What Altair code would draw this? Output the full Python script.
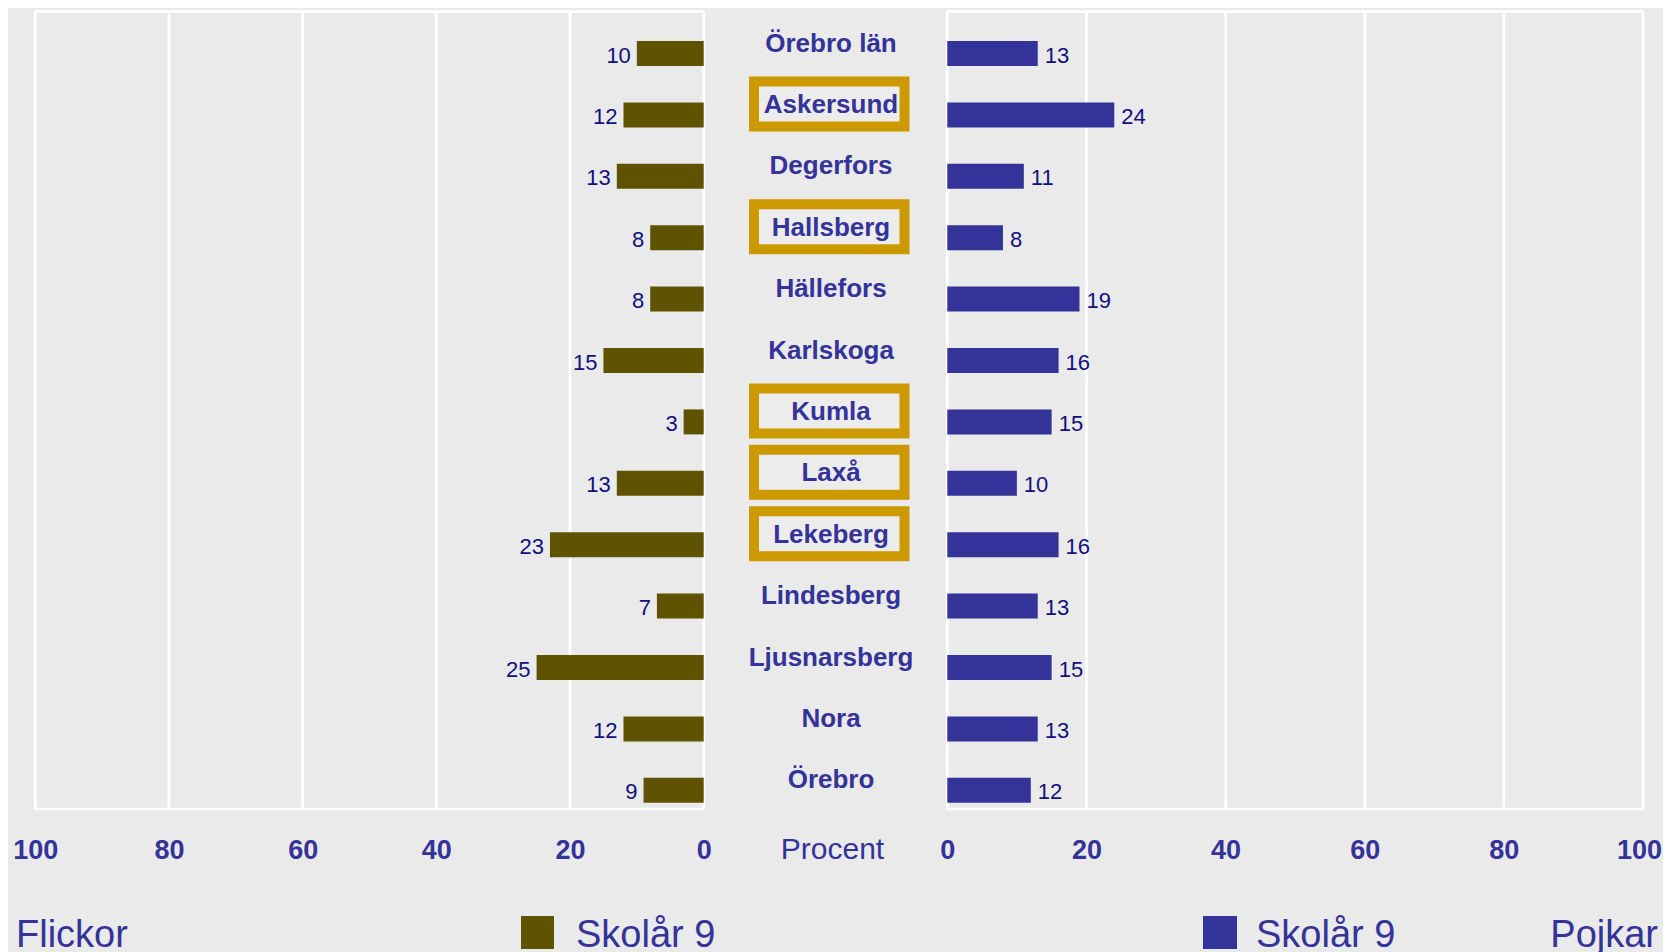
import altair as alt
import pandas as pd

# ---------------- data ----------------
cities = ["Örebro län", "Askersund", "Degerfors", "Hallsberg", "Hällefors",
          "Karlskoga", "Kumla", "Laxå", "Lekeberg", "Lindesberg",
          "Ljusnarsberg", "Nora", "Örebro"]
girls = [10, 12, 13, 8, 8, 15, 3, 13, 23, 7, 25, 12, 9]
boys = [13, 24, 11, 8, 19, 16, 15, 10, 16, 13, 15, 13, 12]
highlighted = ["Askersund", "Hallsberg", "Kumla", "Laxå", "Lekeberg"]
tick_values = [0, 20, 40, 60, 80, 100]
axis_title = "Procent"
series_titles = ["Flickor", "Pojkar"]
legend_label = "Skolår 9"
bar_colors = ["#5f5200", "#333399"]

df = pd.DataFrame({"kommun": cities, "flickor": girls, "pojkar": boys})
df["markerad"] = df["kommun"].isin(highlighted)
grid_df = pd.DataFrame({"t": tick_values})
one = pd.DataFrame({"v": [0]})

# ---------------- style ----------------
FONT = "Liberation Sans"
BLUE = "#333399"
NAVY = "#10107f"
GOLD = "#cc9900"
BG = "#eaeaea"
W, H = 1607.7, 797.7
LINE_W = 2.7

Y = alt.Y("kommun:N", sort=cities, axis=None,
          scale=alt.Scale(domain=cities, range=[11.5, 809.7],
                          paddingInner=0, paddingOuter=0))


def make_axis(last_shift=0):
    return alt.Axis(values=tick_values, orient="bottom", domain=False, ticks=False,
                    grid=False, labelFont=FONT, labelFontWeight="bold",
                    labelFontSize=27, labelColor=BLUE, labelPadding=28,
                    labelFlush=False, labelOverlap=False, title=None, format="d",
                    labelOffset={"expr": f"datum.value == 100 ? {last_shift} : 0"})


def panel(field, rng, color, align, dx, last_shift):
    sc = alt.Scale(domain=[0, 100], range=rng, nice=False)
    ax = make_axis(last_shift)
    grid = alt.Chart(grid_df).mark_rule(color="white", strokeWidth=LINE_W).encode(
        x=alt.X("t:Q", scale=sc, axis=ax), y=alt.value(0), y2=alt.value(H))
    top = alt.Chart(one).mark_rule(color="white", strokeWidth=LINE_W).encode(
        x=alt.X(datum=0, scale=sc, axis=ax), x2=alt.datum(100), y=alt.value(0))
    bottom = alt.Chart(one).mark_rule(color="white", strokeWidth=LINE_W).encode(
        x=alt.X(datum=0, scale=sc, axis=ax), x2=alt.datum(100), y=alt.value(H))
    bars = alt.Chart(df).mark_bar(size=25, color=color).encode(
        x=alt.X(f"{field}:Q", scale=sc, axis=ax), y=Y)
    labels = alt.Chart(df).mark_text(
        align=align, baseline="alphabetic", dx=dx, dy=9, font=FONT,
        fontSize=22, color=NAVY).encode(
        x=alt.X(f"{field}:Q", scale=sc, axis=ax), y=Y, text=f"{field}:Q")
    return alt.layer(grid, top, bottom, bars, labels)


left = panel("flickor", [668.4, 0], bar_colors[0], "right", -6, 0)
right = panel("pojkar", [912.0, W], bar_colors[1], "left", 7, -4)

boxes = alt.Chart(df).transform_filter("datum.markerad").mark_bar(
    orient="horizontal", size=45, yOffset=-11, fill="#ececec",
    stroke=GOLD, strokeWidth=10).encode(
    x=alt.value(718.7), x2=alt.value(869.2), y=Y)

names = alt.Chart(df).mark_text(
    font=FONT, fontWeight="bold", fontSize=26, color=BLUE, align="center",
    baseline="alphabetic", dy=-2).encode(
    x=alt.value(795.7), y=Y, text="kommun:N")

procent = alt.Chart(one).mark_text(
    text=axis_title, font=FONT, fontSize=30, color=BLUE, align="center",
    baseline="alphabetic").encode(x=alt.value(797.2), y=alt.value(848))

LEG_Y = 936
leg_font = dict(font=FONT, fontSize=38, color=BLUE, baseline="alphabetic")
flickor_t = alt.Chart(one).mark_text(text=series_titles[0], align="left", **leg_font).encode(
    x=alt.value(-19.3), y=alt.value(LEG_Y))
pojkar_t = alt.Chart(one).mark_text(text=series_titles[1], align="right", **leg_font).encode(
    x=alt.value(1622.7), y=alt.value(LEG_Y))
sw_left = alt.Chart(one).mark_rect(color=bar_colors[0]).encode(
    x=alt.value(485.7), x2=alt.value(518.7), y=alt.value(904.7), y2=alt.value(937.7))
sw_right = alt.Chart(one).mark_rect(color=bar_colors[1]).encode(
    x=alt.value(1167.7), x2=alt.value(1201.7), y=alt.value(904.7), y2=alt.value(937.7))
lab_left = alt.Chart(one).mark_text(text=legend_label, align="left", **leg_font).encode(
    x=alt.value(540.7), y=alt.value(LEG_Y))
lab_right = alt.Chart(one).mark_text(text=legend_label, align="left", **leg_font).encode(
    x=alt.value(1220.7), y=alt.value(LEG_Y))

chart = alt.layer(
    left, right, boxes, names, procent,
    flickor_t, pojkar_t, sw_left, sw_right, lab_left, lab_right
).resolve_scale(x="independent").properties(
    width=W, height=H,
    padding={"left": 27.3, "top": 3.3, "right": 20, "bottom": 150},
    autosize=alt.AutoSizeParams(type="none"),
    background=BG,
).configure_view(strokeWidth=0, fill=BG)

chart.save("out.html", embed_options={"renderer": "svg", "actions": False})
